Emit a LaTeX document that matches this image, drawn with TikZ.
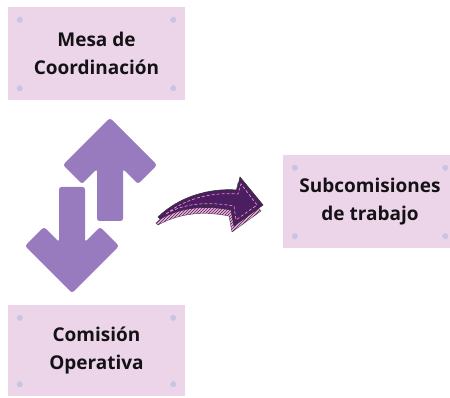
\documentclass[tikz,border=0pt]{standalone}
\usepackage{fontspec}
\newfontfamily\boxfont{Open Sans}
\usetikzlibrary{positioning}
\usetikzlibrary{patterns}
\definecolor{boxpink}{RGB}{236,213,233}
\definecolor{dotblue}{RGB}{200,196,228}
\definecolor{arrowlila}{RGB}{152,122,190}
\definecolor{darkplum}{RGB}{74,30,96}
\definecolor{stitch}{RGB}{232,140,200}
\definecolor{txt}{RGB}{20,18,22}

\begin{document}
\begin{tikzpicture}[x=1pt,y=-1pt,
    boxnode/.style={rectangle,fill=boxpink,align=center,text=txt,inner sep=0pt,
      font={\boxfont\bfseries\fontsize{19}{27.5}\selectfont}},
    cornerdot/.style={fill=dotblue},
    bigarrow/.style={fill=arrowlila,rounded corners=2.5pt}]
        \clip (0,0) rectangle (450,398);

        \node[boxnode,minimum width=177pt,minimum height=93pt] (mesa) at (96.5,53.5) {Mesa de\\Coordinación};
        \node[boxnode,minimum width=174pt,minimum height=93pt] (subcom) at (370,201.5) {Subcomisiones\\de trabajo};
        \node[boxnode,minimum width=177pt,minimum height=91pt] (comision) at (96.5,350.5) {Comisión\\Operativa};

    \foreach \n in {mesa,subcom,comision}{
        \fill[cornerdot] ([shift={(12,13)}]\n.north west) circle (3pt);
        \fill[cornerdot] ([shift={(-12,13)}]\n.north east) circle (3pt);
        \fill[cornerdot] ([shift={(12,-12)}]\n.south west) circle (3pt);
        \fill[cornerdot] ([shift={(-12,-12)}]\n.south east) circle (3pt);
    }

        % up and down arrows
        \fill[bigarrow] (110,118) -- (157,165) -- (138,184) -- (123,169) -- (123,221) -- (97,221) -- (97,169) -- (82,184) -- (63,165) -- cycle;
        \fill[bigarrow] (72,293) -- (25,246) -- (44,227) -- (59,242) -- (59,187) -- (85,187) -- (85,242) -- (100,227) -- (119,246) -- cycle;

        % curved arrow
    \begin{scope}[shift={(-2,6)}]
        \path[draw=black!70,line width=0.4pt,fill=stitch!70,postaction={pattern=north east lines,pattern color=darkplum}]
            (158,217) .. controls (180,196) and (210,188) .. (237,190) -- (240,177) -- (263,205) -- (234,226) -- (231,210)
            .. controls (205,205) and (182,207) .. (160,219) -- cycle;
    \end{scope}
        \draw[fill=darkplum,draw=black!80,line width=0.6pt]
            (158,217) .. controls (180,196) and (210,188) .. (237,190) -- (240,177) -- (263,205) -- (234,226) -- (231,210)
            .. controls (205,205) and (182,207) .. (160,219) -- cycle;
        \draw[stitch,dash pattern=on 3pt off 2pt,line width=0.7pt]
            (166,214) .. controls (185,199) and (210,192) .. (238,194) -- (241,184) -- (257,205) -- (236,220) -- (234,206)
            .. controls (205,201) and (183,204) .. (166,214);
\end{tikzpicture}
\end{document}
